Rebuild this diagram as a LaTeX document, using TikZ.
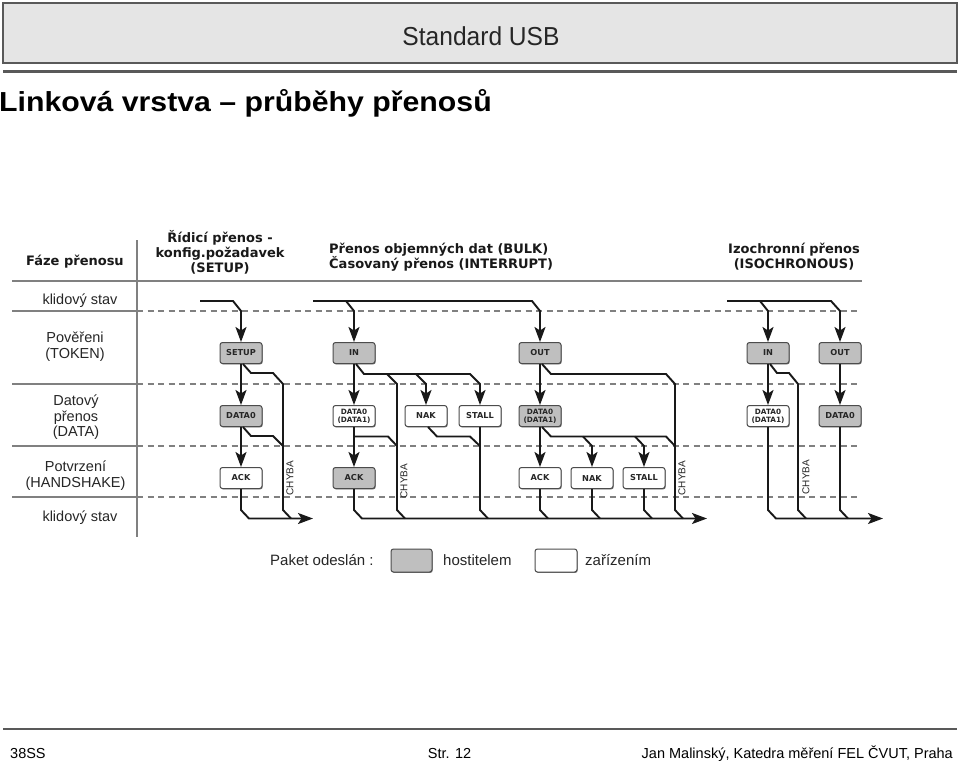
\documentclass[tikz,border=0pt]{standalone}
\usepackage{graphicx}
\usepackage{fontspec}
\setmainfont{Liberation Sans}
\newfontfamily\djfont{DejaVu Sans}
\usetikzlibrary{arrows.meta,shadows}
\begin{document}
\begin{tikzpicture}[x=1pt,y=-1pt,
  wire/.style={line width=1.9pt, draw=black!90},
  arr/.style={wire, -{Stealth[length=15pt,width=11pt,inset=3.5pt]}},
  sep/.style={line width=1.2pt, draw=black!50},
  dsh/.style={sep, dash pattern=on 6pt off 4.5pt},
  pkt/.style={rectangle, rounded corners=2.5pt, draw=black!70, line width=1pt,
    minimum width=42pt, minimum height=21pt, inner sep=0pt, align=center,
    font=\djfont\bfseries\fontsize{8.2}{8.5}\selectfont, text=black!85,
    drop shadow={shadow xshift=0.7pt, shadow yshift=-0.9pt, fill=black!55, opacity=1}},
  two/.style={font=\djfont\bfseries\fontsize{7.3}{8}\selectfont},
  host/.style={pkt, fill=black!25},
  dev/.style={pkt, fill=white},
  lbl/.style={font=\fontsize{14.5}{15.5}\selectfont, align=center, text=black!85, inner sep=0pt},
  hdr/.style={font=\djfont\bfseries\fontsize{13}{15}\selectfont, text=black!90, inner sep=0pt},
  err/.style={font=\fontsize{10}{10}\selectfont, rotate=90, inner sep=0pt, text=black!85},
]
\useasboundingbox (0,0) rectangle (960,764);
\fill[white] (0,0) rectangle (960,764);

% ---- slide header and footer
\draw[draw=black!65, line width=1.5pt, fill=black!10] (3,3) rectangle (957,63);
\node[anchor=base, inner sep=0pt, text=black!85] (stdusb) at (481,45)
  {\fontsize{26}{30}\selectfont\scalebox{0.945}[1]{Standard USB}};
\draw[line width=2.5pt, draw=black!65] (3,71.5) -- (957,71.5);
\node[anchor=base west, inner sep=0pt] (title) at (-1,111)
  {\fontsize{27.5}{30}\selectfont\bfseries\scalebox{1.1}[1]{Linková vrstva – průběhy přenosů}};
\draw[line width=2.5pt, draw=black!65] (3,729) -- (957,729);
\node[anchor=base west, inner sep=0pt, font=\fontsize{14.5}{16}\selectfont] (f1) at (10,758) {38SS};
\node[anchor=base, inner sep=0pt, font=\fontsize{14.5}{16}\selectfont] (f2) at (449.5,758) {Str. 12};
\node[anchor=base east, inner sep=0pt, font=\fontsize{14.5}{16}\selectfont] (f3) at (953,758) {Jan Malinský, Katedra měření FEL ČVUT, Praha};

% ---- table grid
\draw[sep] (12,281) -- (862,281);
\draw[sep] (137,240) -- (137,537);
\foreach \yy in {311,384,446,497}{
  \draw[sep] (12,\yy) -- (137,\yy);
  \draw[dsh] (137,\yy) -- (860,\yy);
}

% ---- left column labels
\node[hdr] (faze) at (75,262) {Fáze přenosu};
\node[lbl] (kl1) at (80,301) {klidový stav};
\node[lbl] (tok) at (75,346.5) {Pověřeni\\(TOKEN)};
\node[lbl] (dat) at (76,417.5) {Datový\\přenos\\(DATA)};
\node[lbl] (hs) at (75.5,475.5) {Potvrzení\\(HANDSHAKE)};
\node[lbl] (kl2) at (80,518) {klidový stav};

% ---- column headers
\node[hdr, align=center] (hsetup) at (220,252) {Řídicí přenos -\\konfig.požadavek\\(SETUP)};
\node[hdr, align=left, anchor=west] (hbulk) at (329,257) {Přenos objemných dat (BULK)\\Časovaný přenos (INTERRUPT)};
\node[hdr, align=center] (hiso) at (794,257) {Izochronní přenos\\(ISOCHRONOUS)};

% ---- packets
\node[host] (setup) at (241,353) {SETUP};
\node[host] (data0s) at (241,416) {DATA0};
\node[dev]  (acks) at (241,478) {ACK};

\node[host] (in1) at (354,353) {IN};
\node[dev, two]  (din) at (354,416) {DATA0\\(DATA1)};
\node[dev]  (nak1) at (426,416) {NAK};
\node[dev]  (stall1) at (480,416) {STALL};
\node[host] (ack1) at (354,478) {ACK};

\node[host] (out1) at (540,353) {OUT};
\node[host, two] (dout) at (540,416) {DATA0\\(DATA1)};
\node[dev]  (ack2) at (540,478) {ACK};
\node[dev]  (nak2) at (592,478) {NAK};
\node[dev]  (stall2) at (644,478) {STALL};

\node[host] (in2) at (768,353) {IN};
\node[dev, two]  (din2) at (768,416) {DATA0\\(DATA1)};
\node[host] (out2) at (840,353) {OUT};
\node[host] (dout2) at (840,416) {DATA0};

% ---- SETUP flow
\coordinate (sA) at (200,301);
\coordinate (sE) at (313,518.5);
\draw[arr] (sA) -- (233,301) -- (241,311) -- (setup.north);
\draw[arr] (setup) -- (data0s);
\draw[arr] (data0s) -- (acks);
\draw[wire] ([xshift=2pt]setup.south) -- (251,373) -- (273,373) -- (283,384) -- (283,510) -- (291,518.5);
\draw[wire] ([xshift=2pt]data0s.south) -- (251,436) -- (273,436) -- (283,446);
\draw[arr] (acks.south) -- (241,510) -- (249,518.5) -- (sE);
\node[err] (e1) at (290,478) {CHYBA};

% ---- BULK / INTERRUPT flow
\coordinate (bA) at (313,301);
\coordinate (bI) at (346,301);
\coordinate (bE) at (707,518.5);
\coordinate (bN) at (416,374);
\coordinate (bC) at (387,374);
\coordinate (bD) at (354,436.5);
\coordinate (bN2) at (583,436.5);
\coordinate (bS2) at (635,436.5);
\draw[arr] (bA) -- (532,301) -- (540,311) -- (out1.north);
\draw[arr] (bI) -- (354,311) -- (in1.north);
\draw[arr] (in1) -- (din);
\draw[arr] (din) -- (ack1);
\draw[arr] ([xshift=2pt]in1.south) -- (364,374) -- (470,374) -- (480,384) -- (stall1.north);
\draw[arr] (bN) -- (426,384) -- (nak1.north);
\draw[wire] (bC) -- (397,384) -- (397,510) -- (405,518.5);
\draw[wire] (bD) -- (388,436.5) -- (397,446);
\draw[wire] ([xshift=2pt]nak1.south) -- (437,436.5) -- (470,436.5) -- (480,446);
\draw[wire] (stall1.south) -- (480,510) -- (488,518.5);
\draw[arr] (ack1.south) -- (354,510) -- (362,518.5) -- (bE);
\node[err] (e2) at (404,481) {CHYBA};

\draw[arr] (out1) -- (dout);
\draw[arr] (dout) -- (ack2);
\draw[wire] ([xshift=2pt]out1.south) -- (551,374) -- (666,374) -- (675,384) -- (675,510) -- (683,518.5);
\draw[wire] ([xshift=2pt]dout.south) -- (551,436.5) -- (666,436.5) -- (675,446);
\draw[arr] (bN2) -- (592,446) -- (nak2.north);
\draw[arr] (bS2) -- (644,446) -- (stall2.north);
\draw[wire] (ack2.south) -- (540,510) -- (548,518.5);
\draw[wire] (nak2.south) -- (592,510) -- (600,518.5);
\draw[wire] (stall2.south) -- (644,510) -- (652,518.5);
\node[err] (e3) at (682,478) {CHYBA};

% ---- ISOCHRONOUS flow
\coordinate (iA) at (727,301);
\coordinate (iI) at (760,301);
\coordinate (iE) at (883,518.5);
\draw[arr] (iA) -- (831,301) -- (840,311) -- (out2.north);
\draw[arr] (iI) -- (768,311) -- (in2.north);
\draw[arr] (in2) -- (din2);
\draw[arr] (out2) -- (dout2);
\draw[wire] ([xshift=2pt]in2.south) -- (777,373) -- (789,373) -- (798,384) -- (798,510) -- (806,518.5);
\draw[arr] (din2.south) -- (768,510) -- (776,518.5) -- (iE);
\draw[wire] (dout2.south) -- (840,510) -- (848,518.5);
\node[err] (e4) at (806,477) {CHYBA};

% ---- legend
\node[lbl, font=\fontsize{15}{16}\selectfont, anchor=west] (leg) at (270,560) {Paket odeslán :};
\node[host, minimum width=41pt, minimum height=23pt] (lh) at (411.5,560.5) {};
\node[lbl, font=\fontsize{15}{16}\selectfont, anchor=west] (legh) at (443,560) {hostitelem};
\node[dev, minimum width=42pt, minimum height=23pt] (ld) at (556,560.5) {};
\node[lbl, font=\fontsize{15}{16}\selectfont, anchor=west] (legd) at (585,560) {zařízením};
\end{tikzpicture}
\end{document}
